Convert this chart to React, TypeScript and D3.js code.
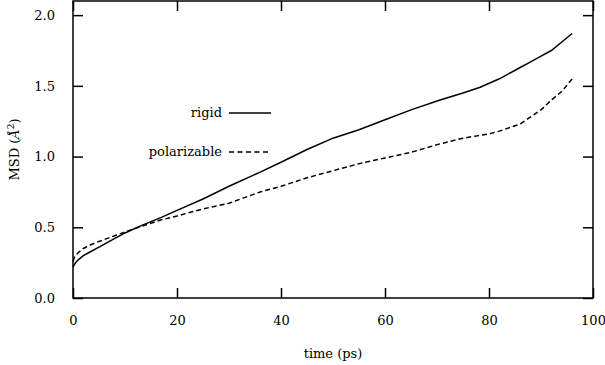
import React, { useRef, useEffect } from 'react';
import * as d3 from 'd3';

const rigidTime = [0, 0.5, 1, 2, 3, 5, 7, 10, 13, 17, 20, 25, 30, 36, 40, 45, 50, 55, 60, 65, 70.6, 75, 78.3, 82, 86, 88, 90, 92, 94, 96];
const rigidMsd = [0.22, 0.25, 0.27, 0.3, 0.32, 0.36, 0.4, 0.46, 0.51, 0.57, 0.62, 0.7, 0.79, 0.89, 0.96, 1.05, 1.13, 1.19, 1.26, 1.33, 1.4, 1.45, 1.49, 1.55, 1.63, 1.67, 1.71, 1.75, 1.81, 1.87];
const polTime = [0, 0.3, 1, 2, 3, 5, 8, 11, 16.7, 20, 25, 30, 36, 40, 45, 51, 55, 60, 65, 70.6, 75, 80, 82, 86, 88, 90, 92, 94, 96];
const polMsd = [0.26, 0.29, 0.32, 0.35, 0.37, 0.4, 0.44, 0.48, 0.55, 0.58, 0.63, 0.67, 0.75, 0.79, 0.85, 0.91, 0.95, 0.99, 1.03, 1.09, 1.13, 1.16, 1.18, 1.23, 1.28, 1.33, 1.4, 1.46, 1.55];
const xTicks = [0, 20, 40, 60, 80, 100];
const yTicks = [0, 0.5, 1.0, 1.5, 2.0];
const seriesNames = ['rigid', 'polarizable'];

const FONT = 'DejaVu Serif';
const FS = 13;

const App = () => {
  const svgRef = useRef<SVGSVGElement>(null);

  useEffect(() => {
    const width = 605;
    const height = 365;
    const margin = { top: 1, right: 12, bottom: 67, left: 73 };
    const innerWidth = width - margin.left - margin.right;
    const innerHeight = height - margin.top - margin.bottom;

    const svg = d3.select(svgRef.current);
    svg.selectAll('*').remove();
    svg.attr('width', width).attr('height', height).style('display', 'block').style('background', '#fff');

    const g = svg.append('g').attr('transform', `translate(${margin.left},${margin.top})`);

    const x = d3.scaleLinear().domain([0, 100]).range([0, innerWidth]);
    const y = d3.scaleLinear().domain([0, 2.1]).range([innerHeight, 0]);

    // inward ticks on all four sides
    const tick = 10;
    g.append('g').attr('transform', `translate(0,${innerHeight})`)
      .call(d3.axisBottom(x).tickValues(xTicks).tickSize(-tick).tickPadding(tick + 8).tickSizeOuter(0).tickFormat(d3.format('d')));
    g.append('g')
      .call(d3.axisTop(x).tickValues(xTicks).tickSize(-tick).tickSizeOuter(0).tickFormat(() => ''));
    g.append('g')
      .call(d3.axisLeft(y).tickValues(yTicks).tickSize(-tick).tickPadding(tick + 8).tickSizeOuter(0).tickFormat(d3.format('.1f')));
    g.append('g').attr('transform', `translate(${innerWidth},0)`)
      .call(d3.axisRight(y).tickValues(yTicks).tickSize(-tick).tickSizeOuter(0).tickFormat(() => ''));

    g.selectAll('.domain').remove();
    g.selectAll('.tick line').attr('stroke', '#000').attr('stroke-width', 1.5);
    g.selectAll('.tick text').attr('font-family', FONT).attr('font-size', FS).attr('fill', '#000');

    g.append('rect')
      .attr('width', innerWidth).attr('height', innerHeight)
      .attr('fill', 'none').attr('stroke', '#000').attr('stroke-width', 1.5);

    const line = d3.line<[number, number]>().x(d => x(d[0])).y(d => y(d[1]));
    const rigid = rigidTime.map((t, i) => [t, rigidMsd[i]] as [number, number]);
    const pol = polTime.map((t, i) => [t, polMsd[i]] as [number, number]);

    g.append('path').datum(rigid).attr('d', line)
      .attr('fill', 'none').attr('stroke', '#000').attr('stroke-width', 1.5);
    g.append('path').datum(pol).attr('d', line)
      .attr('fill', 'none').attr('stroke', '#000').attr('stroke-width', 1.5).attr('stroke-dasharray', '5,3');

    // legend
    const legend = svg.append('g');
    seriesNames.forEach((name, i) => {
      const ly = 113 + i * 39;
      legend.append('text')
        .attr('x', 222).attr('y', ly).attr('dy', '0.32em')
        .attr('text-anchor', 'end')
        .attr('font-family', FONT).attr('font-size', FS)
        .text(name);
      legend.append('line')
        .attr('x1', 229).attr('x2', 271).attr('y1', ly).attr('y2', ly)
        .attr('stroke', '#000').attr('stroke-width', 1.5)
        .attr('stroke-dasharray', i === 1 ? '5,3.5' : null);
    });

    // axis titles
    svg.append('text')
      .attr('x', margin.left + innerWidth / 2).attr('y', 358)
      .attr('text-anchor', 'middle')
      .attr('font-family', FONT).attr('font-size', FS)
      .text('time (ps)');

    const yl = svg.append('text')
      .attr('transform', `translate(19,${margin.top + innerHeight / 2}) rotate(-90)`)
      .attr('text-anchor', 'middle')
      .attr('font-family', FONT).attr('font-size', FS);
    yl.append('tspan').text('MSD (');
    yl.append('tspan').attr('font-style', 'italic').text('Å');
    yl.append('tspan').attr('font-size', 9).attr('dy', '-0.6em').text('2');
    yl.append('tspan').attr('dy', '0.4em').text(')');
  }, []);

  return (
    <div style={{ position: 'absolute', left: 0, top: 0 }}>
      <svg ref={svgRef}></svg>
    </div>
  );
};

export default App;
